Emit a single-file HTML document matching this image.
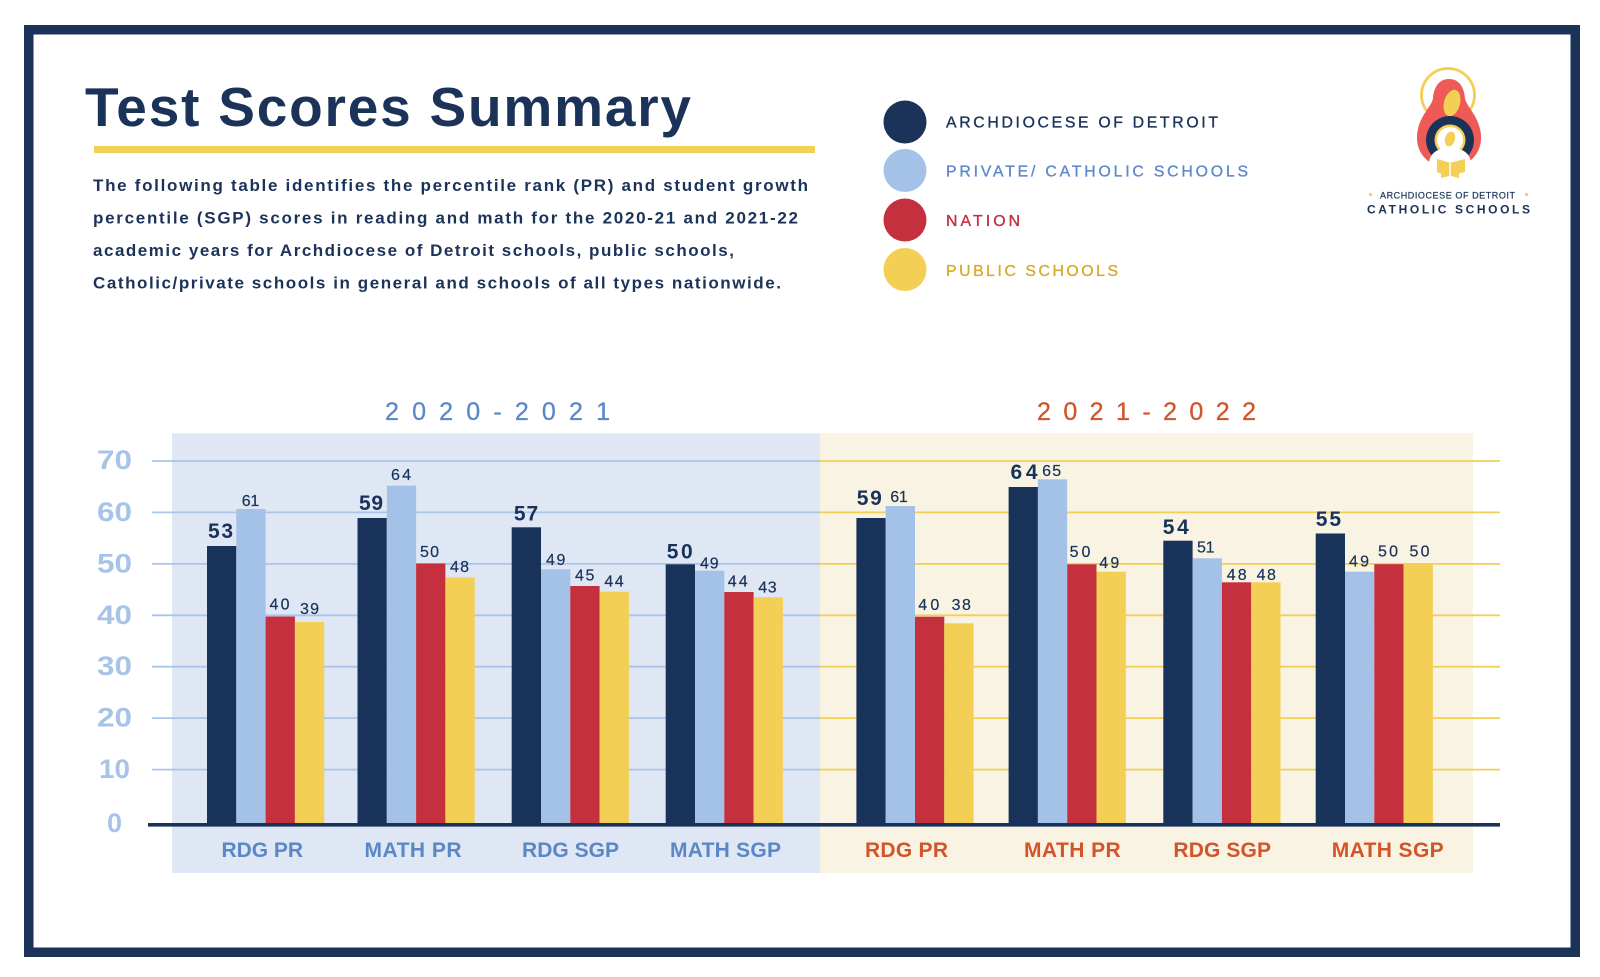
<!DOCTYPE html>
<html>
<head>
<meta charset="utf-8">
<style>
  html,body{margin:0;padding:0;background:#ffffff;}
  svg{display:block;}
  text{font-family:"Liberation Sans", sans-serif;}
</style>
</head>
<body>
<svg width="1600" height="977" viewBox="0 0 1600 977" xmlns="http://www.w3.org/2000/svg">
  <!-- background -->
  <rect x="0" y="0" width="1600" height="977" fill="#ffffff"/>
  <!-- outer frame -->
  <rect x="28.75" y="29.75" width="1546.5" height="922.5" fill="none" stroke="#1b3259" stroke-width="9.5"/>

  <!-- Title -->
  <text x="85" y="126" font-size="55" font-weight="bold" fill="#1b3259" textLength="606" lengthAdjust="spacing">Test Scores Summary</text>
  <rect x="94" y="146" width="721" height="7" fill="#f2cf55"/>

  <!-- Paragraph -->
  <g font-size="17" font-weight="bold" fill="#1b3259">
    <text x="93" y="191" textLength="715" lengthAdjust="spacing">The following table identifies the percentile rank (PR) and student growth</text>
    <text x="93" y="223.5" textLength="705" lengthAdjust="spacing">percentile (SGP) scores in reading and math for the 2020-21 and 2021-22</text>
    <text x="93" y="256" textLength="641" lengthAdjust="spacing">academic years for Archdiocese of Detroit schools, public schools,</text>
    <text x="93" y="288.7" textLength="688" lengthAdjust="spacing">Catholic/private schools in general and schools of all types nationwide.</text>
  </g>

  <!-- Legend -->
  <circle cx="905" cy="122" r="21.5" fill="#1b3259"/>
  <circle cx="905" cy="170.5" r="21.5" fill="#a4c2e7"/>
  <circle cx="905" cy="220" r="21.5" fill="#c4303e"/>
  <circle cx="905" cy="269.5" r="21.5" fill="#f3cf56"/>
  <g font-size="15.8" stroke-width="0.35">
    <text x="946" y="127.3" fill="#1b3259" stroke="#1b3259" textLength="272" lengthAdjust="spacing">ARCHDIOCESE OF DETROIT</text>
    <text x="946" y="176.7" fill="#5d89cb" stroke="#5d89cb" textLength="302" lengthAdjust="spacing">PRIVATE/ CATHOLIC SCHOOLS</text>
    <text x="946" y="226" fill="#c4303e" stroke="#c4303e" textLength="74" lengthAdjust="spacing">NATION</text>
    <text x="946" y="276" fill="#d6aa2a" stroke="#d6aa2a" textLength="172" lengthAdjust="spacing">PUBLIC SCHOOLS</text>
  </g>

  <!-- Logo -->
  <g>
    <circle cx="1448" cy="95" r="26.5" fill="none" stroke="#f3cf55" stroke-width="2.8"/>
    <path d="M1449 79 C1439 79 1434 87 1433 98 C1432 107 1418 116 1417 136 C1416 155 1431 168 1449 168 C1467 168 1482 155 1481 136 C1480 116 1466 107 1465 98 C1464 87 1459 79 1449 79 Z" fill="#ee5a56"/>
    <ellipse cx="1452" cy="103" rx="8" ry="13.5" transform="rotate(15 1452 103)" fill="#f3cf55"/>
    <circle cx="1450" cy="140" r="24" fill="#1b3259"/>
    <circle cx="1450" cy="140" r="15.5" fill="#f3cf55"/>
    <circle cx="1450" cy="140" r="13" fill="#ffffff"/>
    <path d="M1428 182 L1429 162 C1431 151 1440 148 1450 148 C1460 148 1469 151 1471 162 L1472 182 Z" fill="#ffffff"/>
    <ellipse cx="1450" cy="139" rx="5" ry="7.5" transform="rotate(15 1450 139)" fill="#f3cf55"/>
    <path d="M1437 159 L1449 162.5 L1451 162.5 L1465 159 L1465 172 L1459 173.5 L1459 178 L1451 176 L1449 176 L1441 178 L1441 173.5 L1437 172 Z" fill="#f3cf55"/>
    <line x1="1450" y1="163" x2="1450" y2="176" stroke="#ffffff" stroke-width="1.5"/>
    <circle cx="1370.5" cy="194.5" r="1.6" fill="#f3cf55"/>
    <circle cx="1526.5" cy="194.5" r="1.6" fill="#f3cf55"/>
    <text x="1380" y="198.3" font-size="9" fill="#1b3259" stroke="#1b3259" stroke-width="0.2" textLength="135" lengthAdjust="spacing">ARCHDIOCESE OF DETROIT</text>
    <text x="1367" y="213.3" font-size="12" font-weight="bold" fill="#1b3259" textLength="163" lengthAdjust="spacing">CATHOLIC SCHOOLS</text>
  </g>

  <!-- Year headers -->
  <text x="385" y="420" font-size="25" fill="#5a88c9" stroke="#5a88c9" stroke-width="0.3" textLength="225" lengthAdjust="spacing">2020-2021</text>
  <text x="1037" y="420" font-size="25" fill="#d2552a" stroke="#d2552a" stroke-width="0.3" textLength="219" lengthAdjust="spacing">2021-2022</text>

  <!-- Panels -->
  <rect x="172" y="433.3" width="648" height="439.7" fill="#dee7f3"/>
  <rect x="820" y="433.3" width="653" height="439.7" fill="#f9f3e3"/>

  <!-- Gridlines -->
  <g stroke-width="1.8">
    <line x1="152" y1="461" x2="820" y2="461" stroke="#a9c5ea"/>
    <line x1="152" y1="512.4" x2="820" y2="512.4" stroke="#a9c5ea"/>
    <line x1="152" y1="563.9" x2="820" y2="563.9" stroke="#a9c5ea"/>
    <line x1="152" y1="615.3" x2="820" y2="615.3" stroke="#a9c5ea"/>
    <line x1="152" y1="666.7" x2="820" y2="666.7" stroke="#a9c5ea"/>
    <line x1="152" y1="718.1" x2="820" y2="718.1" stroke="#a9c5ea"/>
    <line x1="152" y1="769.6" x2="820" y2="769.6" stroke="#a9c5ea"/>
    <line x1="820" y1="461" x2="1500" y2="461" stroke="#f2cf55"/>
    <line x1="820" y1="512.4" x2="1500" y2="512.4" stroke="#f2cf55"/>
    <line x1="820" y1="563.9" x2="1500" y2="563.9" stroke="#f2cf55"/>
    <line x1="820" y1="615.3" x2="1500" y2="615.3" stroke="#f2cf55"/>
    <line x1="820" y1="666.7" x2="1500" y2="666.7" stroke="#f2cf55"/>
    <line x1="820" y1="718.1" x2="1500" y2="718.1" stroke="#f2cf55"/>
    <line x1="820" y1="769.6" x2="1500" y2="769.6" stroke="#f2cf55"/>
  </g>

  <!-- Y axis labels -->
  <g font-size="27" font-weight="bold" fill="#a8c3e8" text-anchor="middle">
    <text x="114.5" y="469" textLength="35" lengthAdjust="spacingAndGlyphs">70</text>
    <text x="114.5" y="521" textLength="35" lengthAdjust="spacingAndGlyphs">60</text>
    <text x="114.5" y="572.5" textLength="35" lengthAdjust="spacingAndGlyphs">50</text>
    <text x="114.5" y="624" textLength="35" lengthAdjust="spacingAndGlyphs">40</text>
    <text x="114.5" y="675" textLength="35" lengthAdjust="spacingAndGlyphs">30</text>
    <text x="114.5" y="726.5" textLength="35" lengthAdjust="spacingAndGlyphs">20</text>
    <text x="114.5" y="778" textLength="31" lengthAdjust="spacingAndGlyphs">10</text>
    <text x="114.5" y="832">0</text>
  </g>

  <!-- Bars -->
  <g>
    <!-- G1 -->
    <rect x="207" y="546" width="29.3" height="278" fill="#19325a"/>
    <rect x="236.3" y="509" width="29.3" height="315" fill="#a4c2e7"/>
    <rect x="265.6" y="616.5" width="29.3" height="207.5" fill="#c4303e"/>
    <rect x="294.9" y="622" width="29.3" height="202" fill="#f3cf56"/>
    <!-- G2 -->
    <rect x="357.5" y="518" width="29.3" height="306" fill="#19325a"/>
    <rect x="386.8" y="485.7" width="29.3" height="338.3" fill="#a4c2e7"/>
    <rect x="416.1" y="563.5" width="29.3" height="260.5" fill="#c4303e"/>
    <rect x="445.4" y="577.5" width="29.3" height="246.5" fill="#f3cf56"/>
    <!-- G3 -->
    <rect x="511.7" y="527.3" width="29.3" height="296.7" fill="#19325a"/>
    <rect x="541" y="569.3" width="29.3" height="254.7" fill="#a4c2e7"/>
    <rect x="570.3" y="586" width="29.3" height="238" fill="#c4303e"/>
    <rect x="599.6" y="591.7" width="29.3" height="232.3" fill="#f3cf56"/>
    <!-- G4 -->
    <rect x="665.7" y="564.3" width="29.3" height="259.7" fill="#19325a"/>
    <rect x="695" y="570.7" width="29.3" height="253.3" fill="#a4c2e7"/>
    <rect x="724.3" y="592" width="29.3" height="232" fill="#c4303e"/>
    <rect x="753.6" y="597.3" width="29.3" height="226.7" fill="#f3cf56"/>
    <!-- G5 -->
    <rect x="856.4" y="518" width="29.3" height="306" fill="#19325a"/>
    <rect x="885.7" y="506" width="29.3" height="318" fill="#a4c2e7"/>
    <rect x="915" y="616.7" width="29.3" height="207.3" fill="#c4303e"/>
    <rect x="944.3" y="623.3" width="29.3" height="200.7" fill="#f3cf56"/>
    <!-- G6 -->
    <rect x="1008.6" y="487" width="29.3" height="337" fill="#19325a"/>
    <rect x="1037.9" y="479.3" width="29.3" height="344.7" fill="#a4c2e7"/>
    <rect x="1067.2" y="564.3" width="29.3" height="259.7" fill="#c4303e"/>
    <rect x="1096.5" y="571.7" width="29.3" height="252.3" fill="#f3cf56"/>
    <!-- G7 -->
    <rect x="1163.3" y="540.7" width="29.3" height="283.3" fill="#19325a"/>
    <rect x="1192.6" y="558.3" width="29.3" height="265.7" fill="#a4c2e7"/>
    <rect x="1221.9" y="582.3" width="29.3" height="241.7" fill="#c4303e"/>
    <rect x="1251.2" y="582.3" width="29.3" height="241.7" fill="#f3cf56"/>
    <!-- G8 -->
    <rect x="1315.7" y="533.5" width="29.3" height="290.5" fill="#19325a"/>
    <rect x="1345" y="571.7" width="29.3" height="252.3" fill="#a4c2e7"/>
    <rect x="1374.3" y="564.2" width="29.3" height="259.8" fill="#c4303e"/>
    <rect x="1403.6" y="564.2" width="29.3" height="259.8" fill="#f3cf56"/>
  </g>

  <!-- Axis -->
  <rect x="148" y="823" width="1352" height="3.6" fill="#19325a"/>

  <!-- Value labels: bold -->
  <g font-size="21" font-weight="bold" fill="#19325a" text-anchor="middle">
    <text x="220.5" y="538" textLength="25" lengthAdjust="spacing">53</text>
    <text x="371" y="510" textLength="24" lengthAdjust="spacing">59</text>
    <text x="526" y="520.7" textLength="24.3" lengthAdjust="spacing">57</text>
    <text x="679.7" y="558.3" textLength="26" lengthAdjust="spacing">50</text>
    <text x="869.3" y="505" textLength="25" lengthAdjust="spacing">59</text>
    <text x="1024" y="479" textLength="27" lengthAdjust="spacing">64</text>
    <text x="1175.8" y="534" textLength="26" lengthAdjust="spacing">54</text>
    <text x="1328.4" y="526" textLength="25.3" lengthAdjust="spacing">55</text>
  </g>
  <!-- Value labels: regular -->
  <g font-size="16" fill="#19325a" stroke="#19325a" stroke-width="0.2" text-anchor="middle">
    <text x="250.5" y="506" textLength="17.5" lengthAdjust="spacing">61</text>
    <text x="279.5" y="609.3" textLength="20" lengthAdjust="spacing">40</text>
    <text x="309.5" y="614" textLength="19" lengthAdjust="spacing">39</text>
    <text x="401" y="480" textLength="20" lengthAdjust="spacing">64</text>
    <text x="429.5" y="557" textLength="19" lengthAdjust="spacing">50</text>
    <text x="459.5" y="572" textLength="19" lengthAdjust="spacing">48</text>
    <text x="555.7" y="565" textLength="19.3" lengthAdjust="spacing">49</text>
    <text x="584.7" y="580.7" textLength="19.3" lengthAdjust="spacing">45</text>
    <text x="614" y="586.7" textLength="19.3" lengthAdjust="spacing">44</text>
    <text x="709.3" y="568.3" textLength="18.7" lengthAdjust="spacing">49</text>
    <text x="737.7" y="586.7" textLength="20" lengthAdjust="spacing">44</text>
    <text x="767.5" y="592.3" textLength="18.4" lengthAdjust="spacing">43</text>
    <text x="899" y="502" textLength="17.5" lengthAdjust="spacing">61</text>
    <text x="928.8" y="610" textLength="21" lengthAdjust="spacing">40</text>
    <text x="961.3" y="610" textLength="19.3" lengthAdjust="spacing">38</text>
    <text x="1051.6" y="476" textLength="19" lengthAdjust="spacing">65</text>
    <text x="1080" y="557" textLength="20.7" lengthAdjust="spacing">50</text>
    <text x="1109.3" y="568" textLength="20" lengthAdjust="spacing">49</text>
    <text x="1205.8" y="552.7" textLength="17.5" lengthAdjust="spacing">51</text>
    <text x="1236.7" y="580" textLength="20" lengthAdjust="spacing">48</text>
    <text x="1266.3" y="580" textLength="19.3" lengthAdjust="spacing">48</text>
    <text x="1359" y="566.7" textLength="20" lengthAdjust="spacing">49</text>
    <text x="1388" y="556.7" textLength="20" lengthAdjust="spacing">50</text>
    <text x="1419.5" y="556.7" textLength="20" lengthAdjust="spacing">50</text>
  </g>

  <!-- Category labels -->
  <g font-size="21" font-weight="bold">
    <text x="221.5" y="857" fill="#5b87c6" textLength="81.5" lengthAdjust="spacing">RDG PR</text>
    <text x="364.5" y="857" fill="#5b87c6" textLength="97" lengthAdjust="spacing">MATH PR</text>
    <text x="522" y="857" fill="#5b87c6" textLength="97" lengthAdjust="spacing">RDG SGP</text>
    <text x="670" y="857" fill="#5b87c6" textLength="111" lengthAdjust="spacing">MATH SGP</text>
    <text x="865" y="857" fill="#d2552a" textLength="83" lengthAdjust="spacing">RDG PR</text>
    <text x="1024" y="857" fill="#d2552a" textLength="96.7" lengthAdjust="spacing">MATH PR</text>
    <text x="1173.4" y="857" fill="#d2552a" textLength="97.6" lengthAdjust="spacing">RDG SGP</text>
    <text x="1331.7" y="857" fill="#d2552a" textLength="112" lengthAdjust="spacing">MATH SGP</text>
  </g>
</svg>
</body>
</html>
